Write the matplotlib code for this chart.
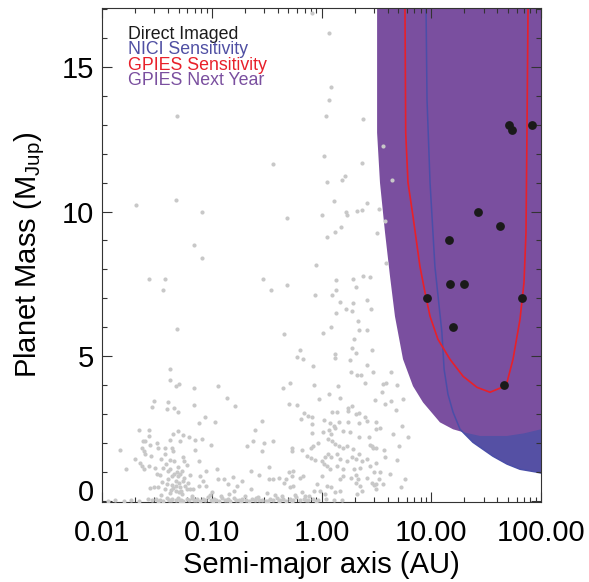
import numpy as np
import matplotlib
matplotlib.use("Agg")
import matplotlib.pyplot as plt
from matplotlib.ticker import LogLocator, NullFormatter, MultipleLocator

plt.rcParams['font.family'] = ['Liberation Sans', 'DejaVu Sans']
plt.rcParams['mathtext.fontset'] = 'custom'
plt.rcParams['mathtext.rm'] = 'Liberation Sans'

# Planetas conocidos (catalogo gris): log10(a/AU) y masa en M_Jup
rv_wide_log_a = [-0.09, 0.07, -1.32, 0.09, 0.07, 0.04, 0.38, -0.44, 0.02, 0.37, 0.21, 0.19, 0.05,
                 -1.69, -1.33, -1.09, -0.31, 0.00, 0.11, 0.22, 0.23, 0.32, 0.37, 0.41, 0.52, 0.51,
                 0.05, 0.12, 0.18, -1.16, -1.09, -0.05, -1.57, -1.43, -1.44, -0.53, -0.46, -0.31,
                 -0.06, 0.13, 0.29, 0.38, 0.44, 0.31, 0.10, 0.13, 0.17, 0.29, 0.41, 0.22, 0.13, 0.28,
                 0.45, 0.33, -1.32, -0.34, 0.01, 0.09, 0.34, 0.41, 0.30, 0.28, 0.31, 0.46, -0.20,
                 -0.22, -0.17, 0.12, 0.12, 0.26, -0.08, 0.41, -1.38, -1.38, 0.27, 0.32, 0.36, 0.47,
                 -1.30, -1.33, -0.29, -0.94, -1.16, -0.35, -0.07, 0.15, 0.40]
rv_wide_mass = [16.85, 16.16, 13.29, 14.29, 13.86, 13.30, 13.21, 11.64, 11.91, 11.68, 11.22, 11.10, 11.01,
                10.21, 10.39, 9.98, 9.78, 9.87, 10.37, 10.00, 9.87, 10.01, 10.07, 10.30, 10.09, 9.27,
                9.13, 9.31, 9.47, 8.86, 8.40, 8.17, 7.68, 7.68, 7.28, 7.68, 7.28, 7.45,
                7.11, 7.62, 7.67, 7.77, 7.73, 7.39, 7.11, 7.28, 6.89, 6.85, 6.94, 6.62, 6.51, 6.56,
                6.62, 6.22, 5.93, 5.77, 5.79, 6.02, 5.91, 5.92, 5.59, 5.30, 5.13, 5.21, 5.21,
                4.98, 4.90, 5.09, 4.93, 4.87, 4.67, 4.70, 4.55, 4.18, 4.47, 4.36, 4.36, 4.46,
                4.06, 3.98, 4.08, 3.98, 3.90, 3.90, 4.00, 3.98, 4.09]

edge_log_a = [0.56, 0.64, 0.58, 0.59, 0.63, 0.56, 0.59, 0.69, 0.55, 0.49, 0.58, 0.63, 0.74, 0.68,
              0.50, 0.53, 0.65, 0.73, 0.79, 0.46, 0.50, 0.57, 0.58, 0.71, 0.69, 0.50, 0.48, 0.53,
              0.62, 0.76, 0.50, 0.56, 0.72]
edge_mass = [12.28, 11.09, 9.69, 8.23, 4.46, 4.06, 4.09, 4.00, 3.78, 3.48, 3.34, 3.46, 3.54, 3.15,
             2.73, 2.54, 2.31, 2.58, 2.23, 1.91, 1.85, 1.76, 1.54, 1.91, 1.41, 1.33, 1.01, 1.01,
             0.93, 0.76, 0.59, 0.59, 0.47]

hot_log_a = [-0.86, -0.79, -1.53, -1.54, -1.40, -1.41, -1.34, -1.31, -1.16, -1.06, -1.12, -0.97,
             -1.66, -1.57, -1.57, -1.63, -1.61, -1.50, -1.56, -1.35, -1.31, -1.26, -1.21, -1.38,
             -1.29, -1.15, -1.09, -1.01, -1.84, -1.78, -1.70, -1.64, -1.62, -1.61, -1.55, -1.49,
             -1.43, -1.36, -1.35, -1.43, -1.46, -1.38, -1.26, -1.25, -1.15, -1.12, -1.65, -1.64,
             -1.62, -1.57, -1.52, -1.50, -1.47, -1.44,
             -1.42, -1.38, -1.34, -1.31, -1.27, -1.23, -1.40, -1.36, -1.33, -1.29, -1.25, -1.22,
             -1.43, -1.38, -1.33, -1.27, -1.23, -1.20, -1.31, -1.34, -1.40, -1.45, -1.49,
             -1.35, -1.30, -1.28, -1.36, -1.32, -1.26, -1.24, -1.41, -1.29, -1.33, -1.37, -1.30,
             -1.05, -1.11, -1.08, -1.12, -1.17, -0.95, -0.94, -0.89, -0.81, -1.05, -1.00, -0.85,
             -0.80, -0.77, -1.56, -1.53, -1.20]
hot_mass = [3.55, 3.29, 3.46, 3.25, 3.42, 3.17, 3.21, 3.06, 3.31, 2.92, 2.69, 2.73,
            2.46, 2.46, 2.25, 2.08, 2.08, 1.99, 1.93, 2.31, 2.42, 2.28, 2.20, 2.11,
            2.06, 2.10, 2.14, 1.93, 1.76, 1.10, 1.45, 1.85, 1.73, 1.62, 1.56, 1.82,
            1.82, 1.85, 1.73, 1.62, 1.45, 1.42, 1.54, 1.39, 1.76, 1.37, 1.33, 1.22,
            1.10, 1.22, 1.16, 0.93, 0.90, 1.16,
            1.28, 1.10, 0.93, 1.17, 1.03, 1.24, 0.76, 0.55, 0.69, 0.48, 0.79, 0.62,
            0.41, 0.28, 0.34, 0.24, 0.41, 0.90, 0.86, 1.38, 1.03, 0.66, 0.48,
            0.45, 0.62, 0.36, 0.85, 1.00, 0.70, 0.52, 0.60, 0.95, 0.52, 0.38, 0.30,
            1.04, 0.87, 0.70, 0.53, 0.41, 1.10, 0.76, 0.78, 0.82, 0.53, 0.30, 0.59,
            0.36, 0.53, 0.44, 0.47, 0.41]

long_log_a = [0.07, -0.02, 0.17, -0.30, -0.22, -0.16, -0.12, -0.09, -0.19, -0.09, 0.02, 0.10, 0.14,
              0.24, 0.28, 0.24, 0.31, 0.34, 0.40, 0.41, 0.08, 0.11, 0.16, 0.24, 0.34, -0.54, -0.61,
              -0.62, -0.68, -0.52, -0.44, -0.54, -0.09, 0.01, 0.07, 0.09, 0.12, 0.20, 0.26, 0.34,
              0.43, 0.50, 0.06, 0.10, 0.12, 0.16, 0.20, 0.23, 0.29, 0.44, 0.47, -0.27, -0.27,
              -0.18, -0.10, -0.08, -0.03, -0.13, -0.10, -0.06, 0.00, 0.03, 0.06, 0.09, 0.14, 0.17,
              0.23, 0.28, 0.31, 0.37, 0.41, 0.34, 0.02, 0.05, 0.08, 0.14, 0.20, 0.30, 0.35, 0.44,
              -0.64, -0.48, -0.30, -0.26, -0.27, -0.17, -0.57, -0.48, -0.44, -0.39, -0.32, -0.34,
              -0.26, -0.29, -0.20, -0.72, -0.64, 0.00, -0.04, 0.05, 0.09, 0.17, 0.20, 0.27, 0.31,
              0.33, 0.31, 0.35, 0.41, 0.46, 0.48, 0.52, 0.50, -0.07, -0.01, 0.03, 0.12, 0.17, 0.32,
              0.37, -0.18, -0.15]
long_mass = [3.70, 3.54, 3.55, 3.34, 3.31, 3.03, 2.94, 2.89, 2.83, 2.66, 2.80, 3.09, 3.06,
             3.23, 3.27, 3.11, 3.00, 3.03, 2.89, 2.77, 2.71, 2.60, 2.73, 2.73, 2.71, 2.77, 2.46,
             2.08, 1.91, 1.99, 2.08, 1.73, 2.34, 2.39, 2.46, 2.31, 2.54, 2.42, 2.40, 2.23,
             2.20, 2.48, 2.14, 2.08, 1.97, 1.91, 1.85, 1.91, 1.79, 1.93, 1.85, 1.85, 1.73,
             1.77, 1.85, 1.91, 2.02, 1.56, 1.48, 1.41, 1.39, 1.51, 1.62, 1.51, 1.62, 1.45,
             1.39, 1.51, 1.45, 1.39, 1.47, 1.62, 1.28, 1.20, 1.10, 1.20, 1.10, 1.10, 1.16, 1.22,
             1.04, 1.18, 0.99, 1.04, 0.87, 0.87, 0.90, 0.76, 0.76, 0.79, 0.76, 0.62,
             0.51, 0.47, 0.79, 0.68, 0.41, 0.87, 0.59, 0.53, 0.47, 0.76, 0.87, 0.80, 0.90,
             0.76, 0.64, 0.53, 0.79, 0.64, 0.55, 0.76, 0.41, 0.36, 0.36, 0.24, 0.30, 0.36, 0.24,
             0.36, 0.30, 0.18]

low_log_a = [-1.95, -1.88, -1.80, -1.74, -1.66, -1.58, -1.54, -1.51, -1.47, -1.44, -1.41, -1.39,
             -1.36, -1.33, -1.31, -1.28, -1.26, -1.23, -1.21, -1.18, -1.16, -1.13, -1.11, -1.08,
             -1.06, -1.03, -1.01, -0.98, -0.96, -0.93, -0.91, -0.88, -0.85, -0.83, -0.80, -0.78,
             -0.75, -0.72, -0.69, -0.66, -0.63, -0.60, -0.57, -0.54, -0.51, -0.47, -0.44, -0.41,
             -0.38, -0.35, -0.32, -0.29, -0.26, -0.23, -0.20, -0.16, -0.12, -0.08, -0.03, 0.04,
             0.11, 0.19, -1.46, -1.18, -1.02, -0.92, -0.84, -0.70, -0.58, -0.50, -0.42, -0.36,
             -0.24, -0.11, -1.49, -1.37, -1.29, -1.14, -0.99, -0.86, -0.73, -0.61, -0.49, -0.39,
             -0.27, -0.14, -0.05]
low_mass = [0.02, 0.03, 0.01, 0.04, 0.02, 0.06, 0.03, 0.09, 0.05, 0.02, 0.12, 0.04,
            0.07, 0.03, 0.10, 0.05, 0.02, 0.08, 0.04, 0.11, 0.03, 0.06, 0.02, 0.09,
            0.04, 0.14, 0.03, 0.07, 0.05, 0.02, 0.10, 0.04, 0.06, 0.02, 0.12, 0.05,
            0.03, 0.08, 0.04, 0.02, 0.06, 0.10, 0.03, 0.05, 0.02, 0.07, 0.04, 0.11,
            0.03, 0.06, 0.02, 0.09, 0.04, 0.13, 0.05, 0.08, 0.03, 0.06, 0.04, 0.07,
            0.03, 0.05, 0.20, 0.18, 0.22, 0.16, 0.25, 0.19, 0.15, 0.28, 0.21, 0.17,
            0.22, 0.19, 0.01, 0.05, 0.02, 0.04, 0.01, 0.03, 0.01, 0.04, 0.01, 0.02,
            0.01, 0.03, 0.02]

# Planetas de imagen directa (AU, M_Jup)
direct_a = [51.4, 54.8, 83.4, 26.8, 42.3, 14.4, 14.9, 20.0, 9.1, 67.1, 15.7, 45.7]
direct_mass = [13.0, 12.8, 13.0, 10.0, 9.5, 9.0, 7.5, 7.5, 7.0, 7.0, 6.0, 4.0]

# Curvas de sensibilidad (AU, M_Jup)
nici_a = [8.96, 9.15, 9.75, 10.8, 12.5, 13.1, 14.2, 15.8, 18.3, 24.0, 29.6, 36.5, 49.0, 64.4, 92.0, 100.0]
nici_mass = [17.1, 13.86, 11.0, 8.10, 5.83, 4.55, 3.69, 3.07, 2.48, 2.03, 1.79, 1.55, 1.28, 1.10, 1.0, 0.97]

gpies_a = [5.76, 5.85, 6.14, 6.82, 7.89, 8.77, 9.75, 11.5, 14.8, 19.5, 26.1, 34.3, 44.2, 49.0,
           55.6, 64.4, 70.0, 73.0, 74.5, 76.2]
gpies_mass = [17.1, 12.72, 11.0, 9.83, 8.10, 7.21, 6.38, 5.59, 4.90, 4.31, 3.93, 3.76, 3.93, 4.10,
              4.90, 6.28, 7.55, 9.28, 12.72, 17.1]

next_year_a = [3.21, 3.21, 3.41, 3.79, 4.21, 4.67, 5.53, 6.82, 8.41, 12.0, 15.8, 19.5, 27.8, 49.0, 70.0, 100.0]
next_year_mass = [17.1, 12.72, 11.0, 9.28, 7.76, 6.38, 4.90, 3.97, 3.41, 2.72, 2.48, 2.38, 2.25, 2.25, 2.34, 2.48]

xtick_vals = [0.01, 0.1, 1, 10, 100]
xtick_labels = ["0.01", "0.10", "1.00", "10.00", "100.00"]

legend_items = [("Direct Imaged", "#1a1a1a"), ("NICI Sensitivity", "#4f4fa3"),
                ("GPIES Sensitivity", "#e8202a"), ("GPIES Next Year", "#7a4f9f")]

purple = "#7a4f9f"
blue = "#5550a4"
red = "#e8202a"
grey = "#c8c8c8"

fig = plt.figure(figsize=(5.89, 5.82), dpi=100)
ax = fig.add_axes([0.1732, 0.1375, 0.7453, 0.8488])
ax.set_xscale("log")

# regiones de sensibilidad
ax.fill(nici_a + [100.0, 100.0], nici_mass + [0.97, 17.1], color=blue, lw=0, zorder=1)
ax.fill(next_year_a + [100.0], next_year_mass + [17.1], color=purple, lw=0, zorder=1.2)
ax.plot(nici_a, nici_mass, color="#4a4ea8", lw=1.1, zorder=1.5)
ax.plot(gpies_a, gpies_mass, color=red, lw=1.2, zorder=1.6)

# catalogo
for la, m in [(rv_wide_log_a, rv_wide_mass), (edge_log_a, edge_mass), (hot_log_a, hot_mass),
              (long_log_a, long_mass), (low_log_a, low_mass)]:
    ax.scatter(10 ** np.array(la), m, s=9, color=grey, lw=0, zorder=3)

ax.scatter(direct_a, direct_mass, s=40, color="#1a1a1a", lw=0, zorder=4)

ax.set_xlim(0.01, 100)
ax.set_ylim(-0.03, 17.03)

ax.set_xticks(xtick_vals, labels=xtick_labels)
ax.xaxis.set_minor_locator(LogLocator(base=10, subs=np.arange(2, 10)))
ax.xaxis.set_minor_formatter(NullFormatter())
ax.set_yticks([0, 5, 10, 15])
ax.yaxis.set_minor_locator(MultipleLocator(1))

ax.tick_params(which="both", direction="in", top=True, right=True, width=0.8, colors="#333333",
               labelcolor="black", labelsize=21)
ax.tick_params(which="major", length=7)
ax.tick_params(which="minor", length=3.5)
ax.tick_params(axis="x", pad=12)
ax.tick_params(axis="y", pad=6)
for sp in ax.spines.values():
    sp.set_linewidth(0.8)
    sp.set_color("#333333")

ax.yaxis.get_major_ticks()[0].label1.set_verticalalignment("baseline")

ax.set_xlabel("Semi-major axis (AU)", fontsize=21, labelpad=3)
ax.set_ylabel("Planet Mass (M$_{\\rm Jup}$)", fontsize=21, labelpad=10)

for i, (txt, col) in enumerate(legend_items):
    ax.text(0.0585, 0.937 - 0.031 * i, txt, color=col, fontsize=12.8, va="baseline",
            transform=ax.transAxes, zorder=5)

fig.savefig("out.png", dpi=100)
